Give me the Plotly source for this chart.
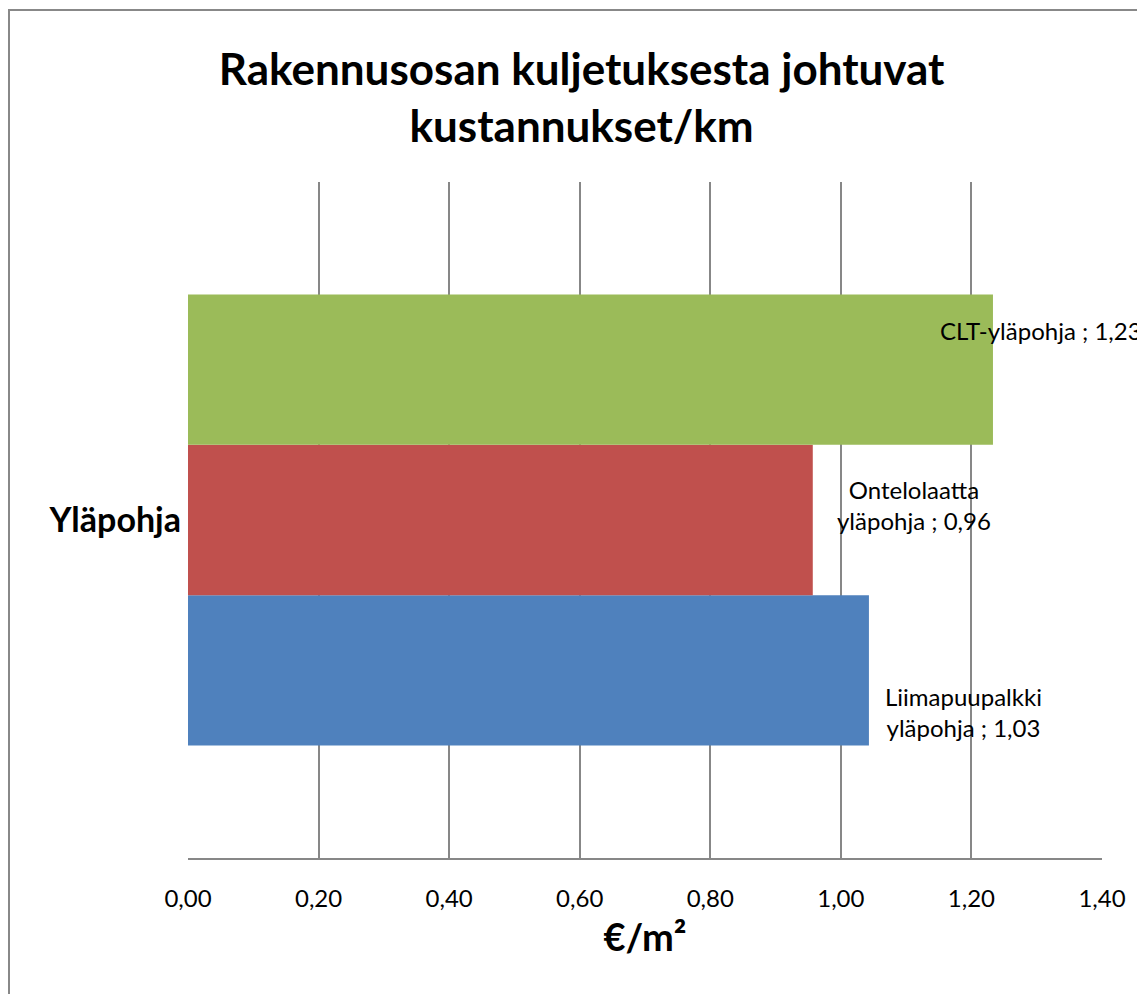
import plotly.graph_objects as go

category = ["Yläpohja"]
series_names = ["Liimapuupalkki yläpohja", "Ontelolaatta yläpohja", "CLT-yläpohja"]
series_values = [1.043, 0.957, 1.233]
label_texts = ["Liimapuupalkki<br>yläpohja ; 1,03", "Ontelolaatta<br>yläpohja ; 0,96", "CLT-yläpohja ; 1,23"]
colors = ["#4F81BD", "#C0504D", "#9BBB59"]
x_ticks = [0.0, 0.2, 0.4, 0.6, 0.8, 1.0, 1.2, 1.4]
x_tick_labels = ["0,00", "0,20", "0,40", "0,60", "0,80", "1,00", "1,20", "1,40"]

FONT = "Lato, 'Open Sans', sans-serif"

fig = go.Figure()
for name, val, col in zip(series_names, series_values, colors):
    fig.add_trace(go.Bar(
        y=category, x=[val], name=name, orientation="h",
        marker=dict(color=col, line=dict(width=0)),
    ))

# label placement (pixel offsets relative to bar end / category centre)
label_style = [
    dict(xanchor="center", xshift=95, yshift=-192),
    dict(xanchor="center", xshift=101, yshift=15),
    dict(xanchor="left", xshift=-55, yshift=190),
]
for val, txt, st in zip(series_values, label_texts, label_style):
    fig.add_annotation(
        x=val, y=category[0], xref="x", yref="y", text=txt, showarrow=False,
        align="center", yanchor="middle", font=dict(family=FONT, size=24, color="#000000"),
        **st,
    )

fig.update_layout(
    width=1145, height=994,
    margin=dict(l=180, r=51, t=174, b=144),
    paper_bgcolor="white", plot_bgcolor="white",
    barmode="group", bargap=0.333, bargroupgap=0,
    showlegend=False,
    font=dict(family=FONT, color="#000000"),
    title=dict(
        text="<b>Rakennusosan kuljetuksesta johtuvat<br>kustannukset/km</b>",
        x=0.501, xanchor="center", y=1 - 77 / 994, yanchor="middle",
        font=dict(family=FONT, size=44, color="#000000"),
    ),
    xaxis=dict(
        range=[0, 1.4], tickvals=x_ticks, ticktext=x_tick_labels,
        showgrid=True, gridcolor="#878787", gridwidth=1.5,
        showline=True, linecolor="#878787", linewidth=1.5,
        zeroline=False, ticks="", tickfont=dict(family=FONT, size=24, color="#000000"),
        ticklabelstandoff=18,
        title=dict(text="<b>€/m²</b>", font=dict(family=FONT, size=38, color="#000000"), standoff=14),
        fixedrange=True,
    ),
    yaxis=dict(
        showgrid=False, showline=False, zeroline=False, ticks="",
        tickfont=dict(family=FONT, size=34, color="#000000"),
        ticklabelstandoff=6,
    ),
    shapes=[dict(
        type="rect", xref="paper", yref="paper",
        x0=(1 - 180) / 914, x1=1.2, y0=-0.4, y1=(850 - 2) / 676,
        line=dict(color="#888888", width=2), fillcolor="rgba(0,0,0,0)", layer="below",
    )],
)
fig.update_yaxes(tickprefix="<b>", ticksuffix="</b>")

fig.write_html("out.html")
